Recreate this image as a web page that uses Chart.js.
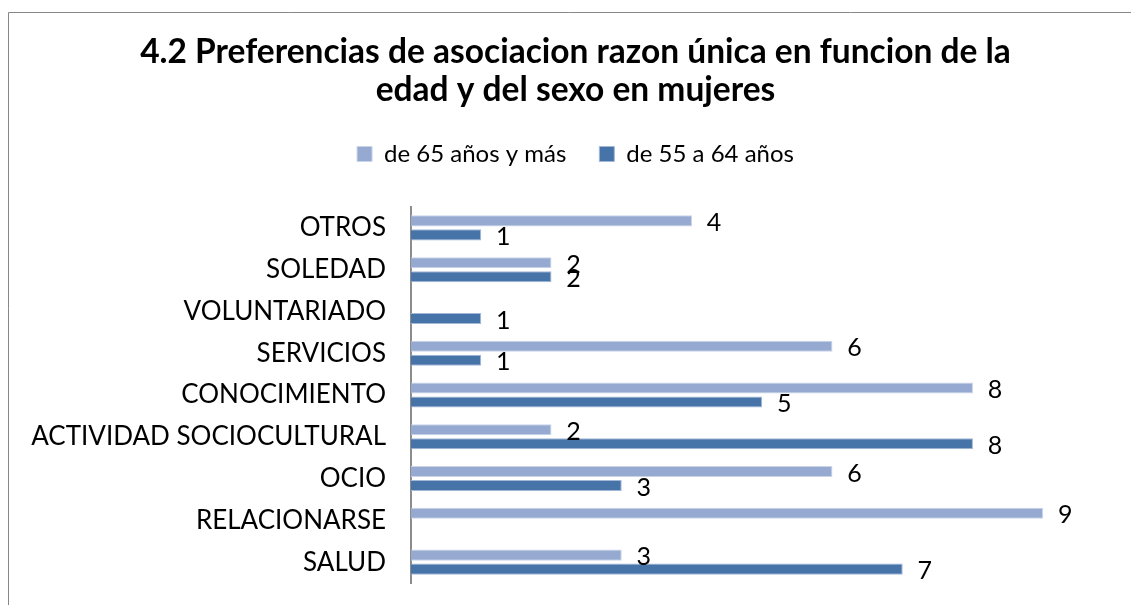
<!DOCTYPE html>
<html>
<head>
<meta charset="utf-8">
<script src="https://cdn.jsdelivr.net/npm/chart.js@4.4.0/dist/chart.umd.min.js"></script>
<style>
  html, body { margin: 0; padding: 0; background: #fff; }
</style>
</head>
<body>
<canvas id="grafica" width="1131" height="605"></canvas>
<script>
const categorias = ['OTROS', 'SOLEDAD', 'VOLUNTARIADO', 'SERVICIOS', 'CONOCIMIENTO',
    'ACTIVIDAD SOCIOCULTURAL', 'OCIO', 'RELACIONARSE', 'SALUD'];
const nombresSeries = ['de 65 años y más', 'de 55 a 64 años'];
const mayores65 = [4, 2, null, 6, 8, 2, 6, 9, 3];
const de55a64 = [1, 2, 1, 1, 5, 8, 3, null, 7];
const tituloLineas = ['4.2 Preferencias de asociacion razon única en funcion de la',
    'edad y del sexo en mujeres'];

// marco gris del gráfico (solo arriba e izquierda se ven)
const marco = {
    id: 'marco',
    beforeDraw(chart) {
        const ctx = chart.ctx;
        ctx.save();
        ctx.strokeStyle = '#878787';
        ctx.lineWidth = 1;
        ctx.beginPath();
        ctx.moveTo(8.5, 605);
        ctx.lineTo(8.5, 12.5);
        ctx.lineTo(1131, 12.5);
        ctx.stroke();
        ctx.restore();
    }
};

// números al final de cada barra
const etiquetas = {
    id: 'etiquetas',
    afterDatasetsDraw(chart) {
        const ctx = chart.ctx;
        ctx.save();
        ctx.font = '25px Lato';
        ctx.fillStyle = '#000';
        ctx.textAlign = 'center';
        ctx.textBaseline = 'middle';
        chart.data.datasets.forEach((ds, i) => {
            chart.getDatasetMeta(i).data.forEach((barra, j) => {
                if (ds.data[j] === null) return;
                ctx.fillText(ds.data[j], barra.x + 22, barra.y + 2);
            });
        });
        ctx.restore();
    }
};

// espacio extra bajo la leyenda
const espacioLeyenda = {
    id: 'espacioLeyenda',
    beforeInit(chart) {
        const fitOriginal = chart.legend.fit;
        chart.legend.fit = function () {
            fitOriginal.bind(chart.legend)();
            this.height += 31;
        };
    }
};

new Chart(document.getElementById('grafica'), {
    type: 'bar',
    data: {
        labels: categorias,
        datasets: [
            {
                label: nombresSeries[0],
                data: mayores65,
                backgroundColor: '#95a9d1',
                borderColor: '#c9d4e9',
                borderWidth: 1,
                categoryPercentage: 0.67,
                barPercentage: 0.79
            },
            {
                label: nombresSeries[1],
                data: de55a64,
                backgroundColor: '#4674a9',
                borderColor: '#a3b8d6',
                borderWidth: 1,
                categoryPercentage: 0.67,
                barPercentage: 0.79
            }
        ]
    },
    options: {
        indexAxis: 'y',
        responsive: false,
        animation: false,
        layout: { padding: { left: 20, right: 0, top: 0, bottom: 22 } },
        scales: {
            x: { display: false, min: 0, max: 10.25 },
            y: {
                grid: { display: false, drawTicks: true, tickLength: 25 },
                border: { display: true, color: '#8c8c8c', width: 2 },
                ticks: { color: '#000', font: { family: 'Lato', size: 26 }, padding: 0 },
                afterFit(scale) { scale.width = 391; }
            }
        },
        plugins: {
            title: {
                display: true,
                text: tituloLineas,
                color: '#000',
                font: { family: 'Lato', size: 33.5, weight: 'bold', lineHeight: 38 / 33.5 },
                padding: { top: 33, bottom: 0 }
            },
            legend: {
                position: 'top',
                labels: {
                    color: '#000',
                    font: { family: 'Lato', size: 24 },
                    boxWidth: 15,
                    boxHeight: 15,
                    padding: 33
                }
            },
            tooltip: { enabled: false }
        }
    },
    plugins: [marco, etiquetas, espacioLeyenda]
});
</script>
</body>
</html>
